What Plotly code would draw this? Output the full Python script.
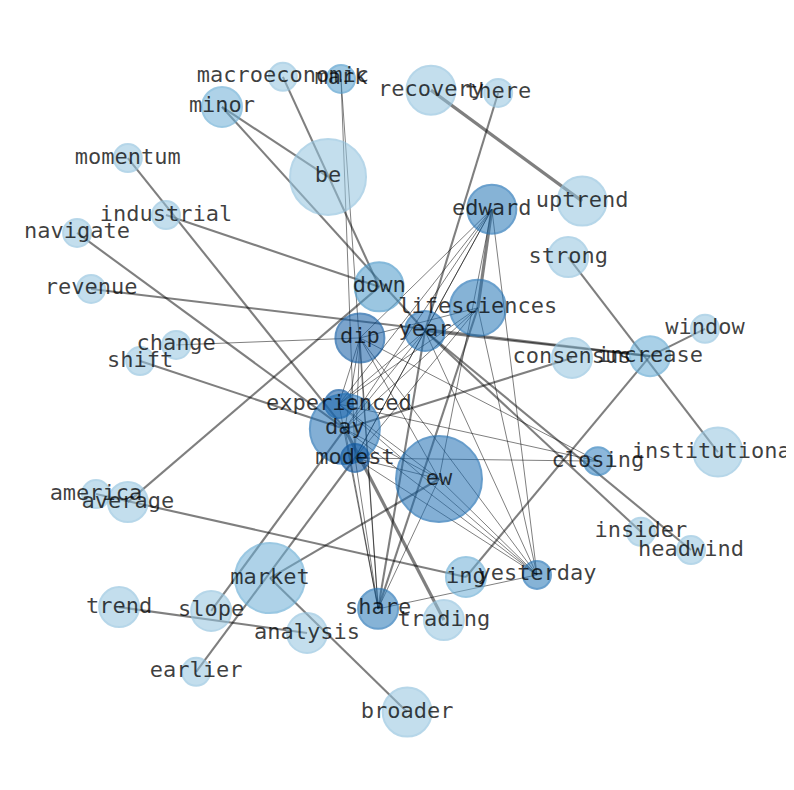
import plotly.graph_objects as go
from plotly.colors import sample_colorscale

# node layout (spring-layout style coordinates)
nodes = [
    "macroeconomic", "mark", "minor", "recovery", "there", "be", "momentum",
    "edward", "uptrend", "industrial", "navigate", "strong", "down", "revenue",
    "lifesciences", "year", "dip", "change", "window", "consensus", "increase",
    "shift", "experienced", "day", "modest", "ew", "closing", "institutional",
    "america", "average", "insider", "headwind", "market", "ing", "yesterday",
    "trend", "slope", "share", "trading", "analysis", "earlier", "broader",
]
pos_x = [
    -0.326, -0.160, -0.500, 0.097, 0.289, -0.197, -0.769,
    0.271, 0.529, -0.660, -0.914, 0.489, -0.051, -0.874,
    0.231, 0.080, -0.106, -0.631, 0.880, 0.500, 0.723,
    -0.734, -0.166, -0.149, -0.120, 0.120, 0.574, 0.917,
    -0.860, -0.769, 0.697, 0.840, -0.363, 0.197, 0.400,
    -0.794, -0.531, -0.054, 0.134, -0.257, -0.574, 0.029,
]
pos_y = [
    0.909, 0.903, 0.823, 0.871, 0.863, 0.623, 0.677,
    0.531, 0.554, 0.514, 0.463, 0.394, 0.309, 0.303,
    0.249, 0.183, 0.163, 0.143, 0.189, 0.106, 0.111,
    0.097, -0.026, -0.097, -0.180, -0.240, -0.189, -0.163,
    -0.283, -0.306, -0.391, -0.443, -0.523, -0.520, -0.514,
    -0.606, -0.617, -0.611, -0.643, -0.680, -0.791, -0.906,
]
# word frequency -> bubble size
freq = [
    1, 1, 2, 3, 1, 6, 1,
    3, 3, 1, 1, 2, 3, 1,
    4, 2, 3, 1, 1, 2, 2,
    1, 1, 5, 1, 7, 1, 3,
    1, 2, 1, 1, 5, 2, 1,
    2, 2, 2, 2, 2, 1, 3,
]
# centrality -> shade of blue
shade = [
    0.40, 0.58, 0.50, 0.40, 0.40, 0.40, 0.40,
    0.74, 0.40, 0.40, 0.40, 0.40, 0.60, 0.40,
    0.74, 0.76, 0.84, 0.40, 0.40, 0.40, 0.52,
    0.40, 0.86, 0.76, 0.86, 0.76, 0.70, 0.40,
    0.40, 0.40, 0.40, 0.40, 0.50, 0.50, 0.74,
    0.40, 0.40, 0.74, 0.40, 0.40, 0.40, 0.40,
]

edge_src = [
    "recovery", "there", "macroeconomic", "minor", "minor", "momentum",
    "industrial", "navigate", "revenue", "shift", "average", "america",
    "trend", "slope", "earlier", "market", "market", "trading", "strong",
    "window", "ing", "day", "year", "year", "year", "edward",
    "lifesciences", "year",
    "change", "mark", "mark", "edward", "edward", "edward", "edward",
    "edward", "edward", "edward", "lifesciences", "lifesciences",
    "lifesciences", "lifesciences", "lifesciences", "dip", "dip", "dip",
    "dip", "dip", "year", "year", "year", "year", "experienced", "modest",
    "modest", "modest", "modest", "day", "day", "day", "experienced",
    "experienced", "experienced", "share", "share", "ew", "dip", "dip",
]
edge_dst = [
    "uptrend", "year", "down", "be", "year", "day",
    "down", "day", "increase", "day", "down", "ing",
    "analysis", "day", "modest", "ew", "broader", "day", "institutional",
    "increase", "increase", "consensus", "increase", "insider", "headwind", "lifesciences",
    "share", "share",
    "dip", "modest", "share", "year", "dip", "experienced", "day",
    "modest", "yesterday", "ew", "dip", "experienced",
    "modest", "yesterday", "day", "ew", "share", "yesterday",
    "closing", "modest", "day", "modest", "yesterday", "experienced", "closing", "closing",
    "ew", "yesterday", "share", "ew", "yesterday", "share", "ew",
    "yesterday", "share", "yesterday", "ew", "yesterday", "experienced", "day",
]
edge_weight = [3] + [2] * 16 + [3] + [2] * 7 + [3, 2, 2] + [1] * 40

idx = {n: i for i, n in enumerate(nodes)}

fig = go.Figure()

# edges, one trace per weight so widths can differ
for w in sorted(set(edge_weight)):
    ex, ey = [], []
    for s, d, ww in zip(edge_src, edge_dst, edge_weight):
        if ww != w:
            continue
        ex += [pos_x[idx[s]], pos_x[idx[d]], None]
        ey += [pos_y[idx[s]], pos_y[idx[d]], None]
    fig.add_trace(go.Scatter(
        x=ex, y=ey, mode="lines", hoverinfo="skip", showlegend=False,
        line=dict(color="rgba(0,0,0,0.5)", width=1 + (w - 1) * 1.1),
    ))

size_px = {1: 28, 2: 40, 3: 49, 4: 56, 5: 70, 6: 76, 7: 86}
base = sample_colorscale("Blues", shade, colortype="tuple")
fill = [f"rgba({r*255:.0f},{g*255:.0f},{b*255:.0f},0.78)" for r, g, b in base]
edge = [f"rgba({r*255:.0f},{g*255:.0f},{b*255:.0f},0.94)" for r, g, b in base]

fig.add_trace(go.Scatter(
    x=pos_x, y=pos_y, mode="markers+text", text=nodes,
    textposition="middle center", showlegend=False,
    textfont=dict(family="DejaVu Sans Mono", size=22, color="rgba(0,0,0,0.75)"),
    marker=dict(size=[size_px[f] for f in freq], color=fill,
                line=dict(color=edge, width=2)),
))

fig.update_layout(
    plot_bgcolor="white", paper_bgcolor="white",
    margin=dict(l=0, r=0, t=0, b=0),
    xaxis=dict(visible=False, range=[-1.1114, 1.1114]),
    yaxis=dict(visible=False, range=[-1.1057, 1.1057]),
)

fig.write_html("out.html")
